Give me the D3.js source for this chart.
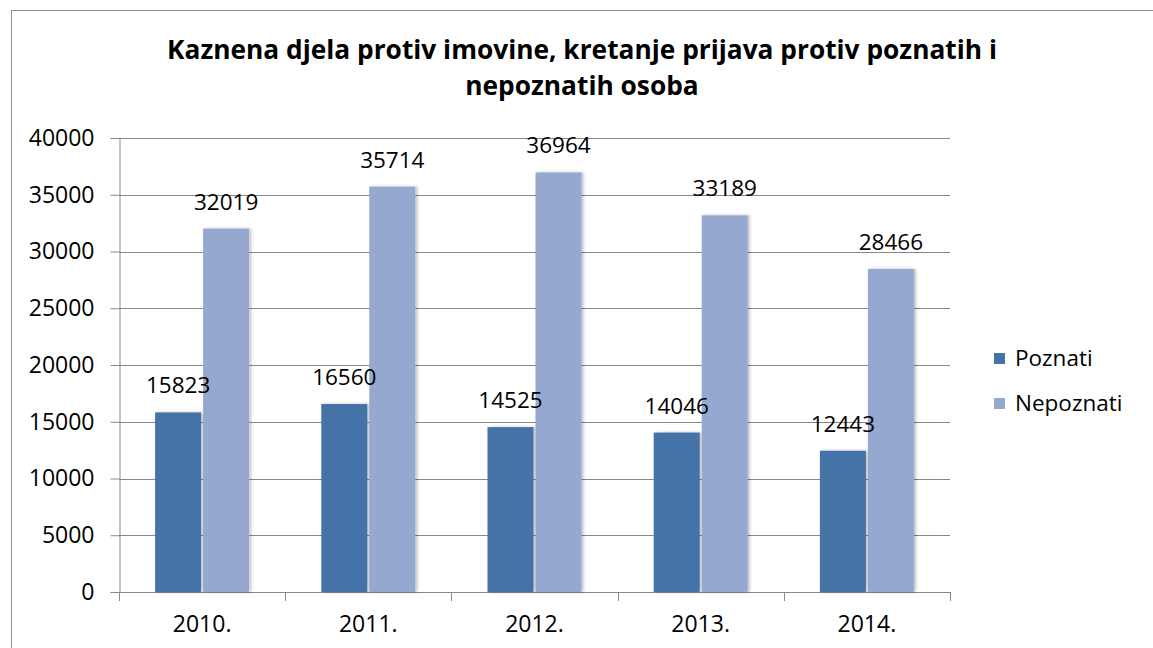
<!DOCTYPE html>
<html><head><meta charset="utf-8">
<script src="https://cdn.jsdelivr.net/npm/d3@7"></script>
<style>html,body{margin:0;padding:0;background:#fff}svg{display:block}</style>
</head><body>
<script>
const years = ["2010.","2011.","2012.","2013.","2014."];
const poznati = [15823,16560,14525,14046,12443];
const nepoznati = [32019,35714,36964,33189,28466];
const seriesNames = ["Poznati","Nepoznati"];
const yTicks = [0,5000,10000,15000,20000,25000,30000,35000,40000];
const titleLines = ["Kaznena djela protiv imovine, kretanje prijava protiv poznatih i","nepoznatih osoba"];

const W=1153,H=648;
const colors=["#4572A7","#95A9D0"];
const font="'Open Sans', 'Liberation Sans', sans-serif";
const svg=d3.select("body").append("svg").attr("width",W).attr("height",H);
const defs=svg.append("defs");
const f=defs.append("filter").attr("id","sh").attr("x","-20%").attr("y","-5%").attr("width","150%").attr("height","110%");
f.append("feDropShadow").attr("dx",2).attr("dy",0).attr("stdDeviation",1.5).attr("flood-color","#000").attr("flood-opacity",0.25);

svg.append("rect").attr("x",11.5).attr("y",10.5).attr("width",1160).attr("height",660).attr("fill","#fff").attr("stroke","#8f8f8f").attr("stroke-width",1);

const x0=119,x1=950,yTop=138,yBot=592;
const x=d3.scaleBand().domain(years).range([x0,x1]).paddingInner(0).paddingOuter(0);
const y=d3.scaleLinear().domain([0,40000]).range([yBot,yTop]);
const bw=46, gap=2;
const groupOff=(x.bandwidth()-(2*bw+gap))/2;

// gridlines
svg.append("g").selectAll("line").data(yTicks.filter(d=>d>0)).join("line")
 .attr("x1",x0).attr("x2",x1).attr("y1",d=>Math.round(y(d))+0.5).attr("y2",d=>Math.round(y(d))+0.5)
 .attr("stroke","#878787").attr("stroke-width",1);

// y axis
const ya=svg.append("g").attr("transform",`translate(${x0+0.5},0)`)
 .call(d3.axisLeft(y).tickValues(yTicks).tickSize(9).tickPadding(16).tickFormat(d3.format("d")));
ya.select(".domain").attr("stroke","#878787");
ya.selectAll(".tick line").attr("stroke","#878787");
ya.selectAll(".tick text").attr("font-family",font).attr("font-size",23).attr("fill","#000");

// x axis
const xa=svg.append("g").attr("transform",`translate(0,${yBot+0.5})`)
 .call(d3.axisBottom(x).tickSize(0).tickPadding(23));
xa.select(".domain").remove();
xa.selectAll(".tick text").attr("font-family",font).attr("font-size",23).attr("fill","#000");
svg.append("line").attr("x1",x0).attr("x2",x1).attr("y1",yBot+0.5).attr("y2",yBot+0.5).attr("stroke","#878787");
svg.append("g").selectAll("line").data(d3.range(years.length+1)).join("line")
 .attr("x1",i=>Math.round(x0+i*x.bandwidth())+0.5).attr("x2",i=>Math.round(x0+i*x.bandwidth())+0.5)
 .attr("y1",yBot).attr("y2",yBot+9).attr("stroke","#878787");

const data=[poznati,nepoznati];
data.forEach((vals,s)=>{
  svg.append("g").selectAll("rect").data(vals).join("rect")
   .attr("x",(d,i)=>x(years[i])+groupOff+s*(bw+gap))
   .attr("y",d=>y(d)).attr("width",bw).attr("height",d=>yBot-y(d))
   .attr("fill",colors[s]).attr("filter","url(#sh)");
});
data.forEach((vals,s)=>{
  svg.append("g").selectAll("text").data(vals).join("text")
   .attr("x",(d,i)=>x(years[i])+groupOff+s*(bw+gap)+bw/2)
   .attr("y",d=>y(d)-19).attr("text-anchor","middle")
   .attr("font-family",font).attr("font-size",22.5).attr("fill","#000").text(d=>d);
});

// title
svg.append("g").selectAll("text").data(titleLines).join("text")
 .attr("x",582).attr("y",(d,i)=>59+i*36).attr("text-anchor","middle")
 .attr("font-family",font).attr("font-weight","bold").attr("font-size",26.3).attr("fill","#000").text(d=>d);

// legend
const lg=svg.append("g").selectAll("g").data(seriesNames).join("g")
 .attr("transform",(d,i)=>`translate(994,${353+i*45})`);
lg.append("rect").attr("width",11).attr("height",11).attr("fill",(d,i)=>colors[i]);
lg.append("text").attr("x",21).attr("y",13).attr("font-family",font).attr("font-size",22.5).attr("fill","#000").text(d=>d);
</script>
</body></html>
